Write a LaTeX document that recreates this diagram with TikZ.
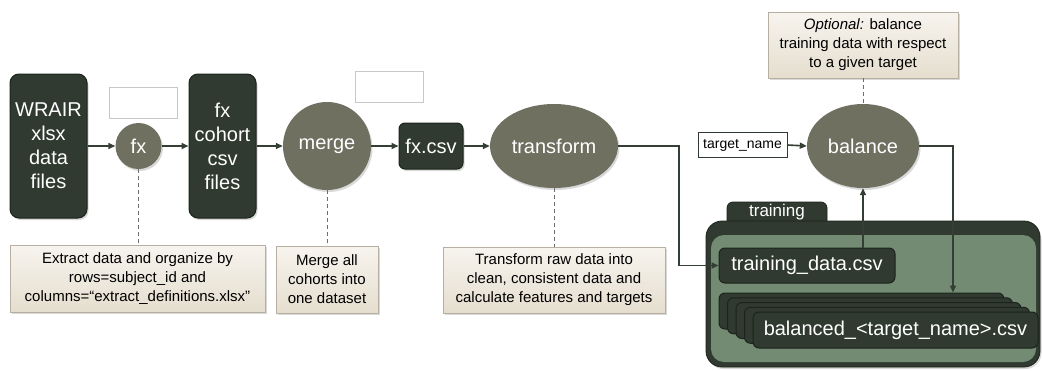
\documentclass[tikz,border=0pt]{standalone}
\usepackage{fontspec}
\setmainfont{Liberation Sans}
\usetikzlibrary{shapes.geometric,arrows.meta,shadows}

\definecolor{darkfill}{RGB}{48,58,48}
\definecolor{darkedge}{RGB}{28,35,28}
\definecolor{procfill}{RGB}{111,112,96}
\definecolor{folderin}{RGB}{116,139,115}
\definecolor{notetop}{RGB}{247,244,238}
\definecolor{notebot}{RGB}{229,222,207}
\definecolor{noteedge}{RGB}{182,175,162}
\definecolor{linecol}{RGB}{52,62,52}
\definecolor{hintcol}{RGB}{110,110,110}
\definecolor{blankedge}{RGB}{200,200,200}

\begin{document}
\begin{tikzpicture}[x=1pt,y=-1pt,
  softshadow/.style={drop shadow={shadow xshift=1.5pt,shadow yshift=-2pt,opacity=0.25,fill=black!60}},
  bigfont/.style={font=\fontsize{20}{24}\selectfont},
  darkbox/.style={draw=darkedge, fill=darkfill, line width=1pt, rounded corners=9pt,
    text=white, align=center, bigfont, inner sep=0pt, softshadow},
  proc/.style={fill=procfill, text=white, bigfont, inner sep=0pt, softshadow},
  note/.style={draw=noteedge, line width=0.8pt, top color=notetop, bottom color=notebot,
    font=\fontsize{15}{19}\selectfont, align=center, inner sep=0pt, softshadow},
  blank/.style={draw=blankedge, fill=white, line width=0.8pt, inner sep=0pt},
  flow/.style={draw=linecol, line width=1.6pt, -{Triangle[length=7pt,width=6pt]}},
  hint/.style={draw=hintcol, line width=0.8pt, dash pattern=on 4pt off 3pt},
  filebox/.style={draw=darkedge, fill=darkfill, line width=1pt, rounded corners=6pt,
    text=white, bigfont, inner sep=0pt, minimum width=285, minimum height=36}
]
\useasboundingbox (0,0) rectangle (1042,370);

% ---- main pipeline row ----
\node[darkbox, minimum width=77, minimum height=144] (wrair) at (48.5,146)
  {WRAIR\\xlsx\\data\\files};
\node[proc, circle, minimum size=46] (fx) at (138.5,146) {fx};
\node[blank, minimum width=68, minimum height=31] (fxin) at (143,102.5) {};
\node[darkbox, minimum width=67, minimum height=144] (cohort) at (222.5,146)
  {fx\\cohort\\csv\\files};
\node[proc, circle, minimum size=88] (merge) at (327,146) {merge};
\node[blank, minimum width=68, minimum height=31] (mergein) at (389,86.5) {};
\node[darkbox, rounded corners=6pt, minimum width=64, minimum height=46] (fxcsv) at (431,146) {fx.csv};
\node[proc, ellipse, minimum width=128, minimum height=84] (transform) at (554,146) {transform};

% ---- balancing step ----
\node[draw=darkfill, fill=white, line width=0.8pt, inner sep=0pt,
  minimum width=89, minimum height=25, font=\fontsize{14}{16}\selectfont] (tname) at (742.5,145) {target\_name};
\node[proc, ellipse, minimum width=112, minimum height=84] (balance) at (863,146) {balance};

% ---- notes ----
\node[note, minimum width=255, minimum height=67] (extract) at (137.5,278.5)
  {Extract data and organize by\\rows=subject\_id and\\columns=“extract\_definitions.xlsx"};
\node[note, minimum width=102, minimum height=67] (mergenote) at (327,279.5)
  {Merge all\\cohorts into\\one dataset};
\node[note, minimum width=222, minimum height=66] (transnote) at (554,280)
  {Transform raw data into\\clean, consistent data and\\calculate features and targets};
\node[note, minimum width=190, minimum height=66] (optional) at (863,45)
  {\textit{Optional:} balance\\training data with respect\\to a given target};

% ---- training folder ----
\node[fill=darkfill, draw=darkedge, line width=0.8pt, rounded corners=6pt,
  minimum width=100, minimum height=32, inner sep=0pt] (tab) at (777,218) {};
\node[fill=darkfill, draw=darkedge, line width=0.8pt, rounded corners=16pt,
  minimum width=334, minimum height=146, inner sep=0pt, softshadow] (folder) at (873,294) {};
\node[text=white, font=\fontsize{17}{20}\selectfont, inner sep=0pt] (tablabel) at (777,212) {training};
\node[fill=folderin, rounded corners=13pt, minimum width=325, minimum height=127,
  inner sep=0pt] (inner) at (873.5,298.5) {};

\node[filebox, minimum width=176, minimum height=35] (tdata) at (807,265.5) {training\_data.csv};
\node[filebox] (bal0) at (861.5,311) {};
\node[filebox] (bal1) at (870,315.75) {};
\node[filebox] (bal2) at (878.5,320.5) {};
\node[filebox] (bal3) at (887,325.25) {};
\node[filebox] (bal4) at (895.5,330) {balanced\_<target\_name>.csv};

% ---- connectors ----
\draw[flow] (wrair.east) -- (fx.west);
\draw[flow] (fx.east) -- (cohort.west);
\draw[flow] (cohort.east) -- (merge.west);
\draw[flow] (merge.east) -- (fxcsv.west);
\draw[flow] (fxcsv.east) -- (transform.west);
\coordinate (bend) at (679,265.5);
\draw[flow] (transform.east) -| (bend) -- (tdata.west);
\draw[flow] (tname.east) -- (balance.west);
\draw[flow] (tdata.north -| balance.south) -- (balance.south);
\coordinate (corner) at (953,146);
\draw[flow] (balance.east) -- (corner) -- (corner |- bal0.north);

% ---- dashed note links ----
\draw[hint] (fx.south) -- (fx.south |- extract.north);
\draw[hint] (merge.south) -- (mergenote.north);
\draw[hint] (transform.south) -- (transnote.north);
\draw[hint] (optional.south) -- (balance.north);
\end{tikzpicture}
\end{document}
